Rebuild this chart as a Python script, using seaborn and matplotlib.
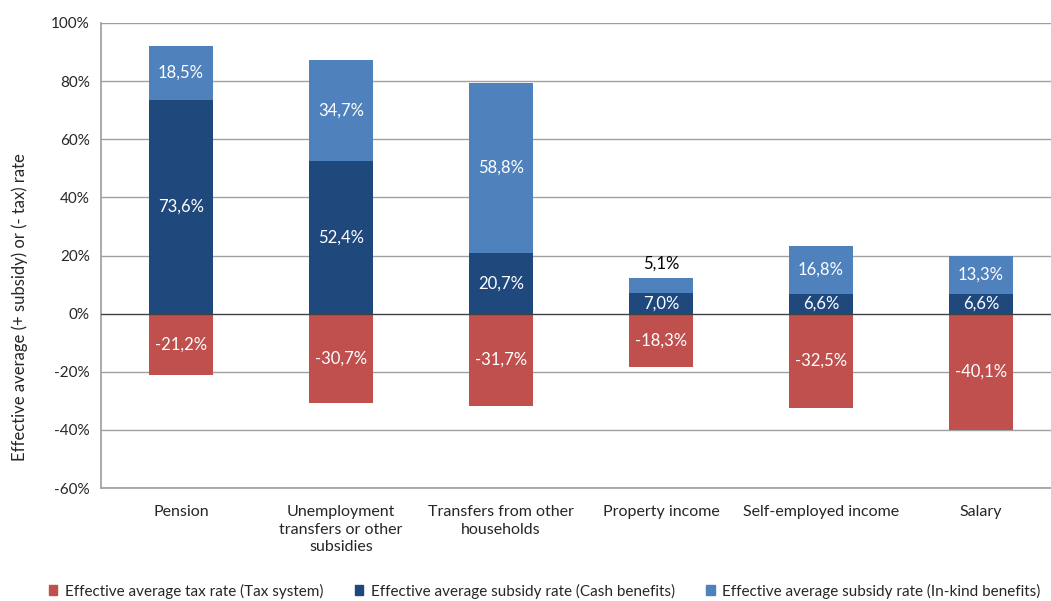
import matplotlib
matplotlib.use("Agg")
import matplotlib.pyplot as plt
import seaborn as sns
import numpy as np
import pandas as pd
from matplotlib.patches import Patch

categories = ["Pension", "Unemployment\ntransfers or other\nsubsidies", "Transfers from other\nhouseholds",
              "Property income", "Self-employed income", "Salary"]
tax = [-21.2, -30.7, -31.7, -18.3, -32.5, -40.1]
cash = [73.6, 52.4, 20.7, 7.0, 6.6, 6.6]
inkind = [18.5, 34.7, 58.8, 5.1, 16.8, 13.3]
series_names = ["Effective average tax rate (Tax system)",
                "Effective average subsidy rate (Cash benefits)",
                "Effective average subsidy rate (In-kind benefits)"]
yticks = [-60, -40, -20, 0, 20, 40, 60, 80, 100]

sns.set_theme(style="white")
plt.rcParams['font.family'] = ['Lato', 'DejaVu Sans']

c_tax = "#C0504D"
c_cash = "#1F497D"
c_ink = "#4F81BD"

fig = plt.figure(figsize=(10.51, 6.01), dpi=100)
ax = fig.add_axes([101/1051, 113/601, 960/1051, 465/601])

df = pd.DataFrame({"cat": categories, "tax": tax, "cash": cash, "inkind": inkind})
kw = dict(width=0.4, ax=ax, saturation=1, linewidth=0, edgecolor="none")
sns.barplot(data=df, x="cat", y="tax", color=c_tax, **kw)
sns.barplot(data=df, x="cat", y="cash", color=c_cash, **kw)
sns.barplot(data=df, x="cat", y="inkind", bottom=np.array(cash), color=c_ink, **kw)

def fmt(v):
    return f"{v:.1f}".replace(".", ",") + "%"

fs = 12
for i in range(len(categories)):
    ax.text(i, tax[i] / 2, fmt(tax[i]), ha="center", va="center", color="white", fontsize=fs)
    ax.text(i, cash[i] / 2, fmt(cash[i]), ha="center", va="center", color="white", fontsize=fs)
    if inkind[i] < 8:
        ax.text(i, cash[i] + inkind[i] + 5, fmt(inkind[i]), ha="center", va="center", color="black", fontsize=fs)
    else:
        ax.text(i, cash[i] + inkind[i] / 2, fmt(inkind[i]), ha="center", va="center", color="white", fontsize=fs)

ax.set_ylim(-60, 100)
ax.set_xlim(-0.5, len(categories) - 0.5)
ax.set_yticks(yticks)
ax.set_yticklabels([f"{t}%" for t in yticks], fontsize=11)
ax.set_xlabel("")
ax.set_ylabel("Effective average (+ subsidy) or (- tax) rate", fontsize=12)
ax.yaxis.set_label_coords((28 - 101) / 960, (488 - 307) / 465)
ax.tick_params(axis="x", labelsize=11.5, length=0, pad=12)
ax.tick_params(axis="y", length=0, pad=8)
for lbl in ax.get_xticklabels():
    lbl.set_verticalalignment("top")
    lbl.set_horizontalalignment("center")
    lbl.set_linespacing(1.35)

for t in yticks:
    if t == 0:
        continue
    ax.axhline(t, color="#A0A0A0", lw=1, zorder=0)
ax.axhline(0, color="#404040", lw=1, zorder=3)
for s in ["top", "right"]:
    ax.spines[s].set_visible(False)
ax.spines["left"].set_color("#A0A0A0")
ax.spines["bottom"].set_color("#A0A0A0")
ax.set_axisbelow(True)

handles = [Patch(color=c_tax), Patch(color=c_cash), Patch(color=c_ink)]
fig.legend(handles, series_names, loc="center left", bbox_to_anchor=(49/1051, 1 - 591/601), ncol=3,
           frameon=False, fontsize=11, handlelength=0.55, handleheight=0.6, handletextpad=0.5,
           columnspacing=2.05, borderpad=0, borderaxespad=0)

fig.savefig("out.png", dpi=100)
